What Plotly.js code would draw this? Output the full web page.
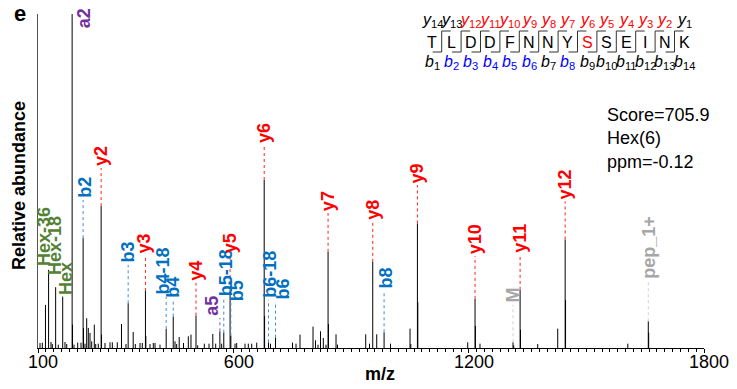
<!DOCTYPE html>
<html><head><meta charset="utf-8">
<script src="https://cdn.plot.ly/plotly-3.0.1.min.js"></script>
<style>html,body{margin:0;padding:0;background:#fff}#chart{width:737px;height:389px}</style>
</head><body><div id="chart"></div>
<script>
// ---------- DATA ----------
// unlabelled fragment peaks (m/z, relative abundance %)
const bgMz = [105.1,111.0,119.1,133.2,136.5,151.8,168.9,173.3,188.15,191.9,201.3,209.8,216.14,220.0,224.3,228.4,232.7,237.1,243.7,247.3,253.9,262.16,271.0,283.8,289.7,302.4,313.1,324.6,343.0,348.4,360.4,366.2,375.24,385.9,394.3,398.7,411.4,449.7,454.0,460.4,471.4,483.7,490.5,507.6,524.5,536.5,546.2,553.6,568.9,602.9,607.2,628.4,636.8,645.5,658.3,678.35,693.5,749.6,758.6,768.8,802.0,808.3,814.7,821.1,828.3,835.1,841.41,860.7,864.5,936.5,946.2,964.6,999.8,1049.6,1051.6,1069.5,1196.9,1216.57,1228.2,1314.3,1331.59,1375.5,1426.6,1446.62,1605.5,1658.8];
const bgInt = [1.5,1.6,12.9,1.8,1.2,1.0,1.8,1.2,7.0,1.0,1.6,1.6,6.0,1.3,8.9,6.0,4.5,2.0,7.0,1.2,1.3,4.0,1.5,1.7,1.7,1.7,7.2,1.2,4.8,1.2,1.5,1.5,3.6,1.2,1.5,1.5,1.0,2.0,1.2,3.3,1.5,3.5,4.0,0.8,1.3,1.3,4.2,1.3,1.3,1.3,1.5,1.3,1.3,1.3,1.6,9.6,1.3,1.6,1.3,4.0,6.4,2.3,1.0,5.0,3.0,1.0,7.2,4.1,1.0,4.1,1.3,4.1,1.3,5.8,1.2,13.7,1.7,6.6,1.3,0.8,5.5,1.2,5.8,14.4,1.3,4.6];

// annotated ions
const ionName = ['Hex-36','Hex-18','Hex','a2','b2','y2','b3','y3','b4-18','b4','y4','a5','b5-18','y5','b5','y6','b6-18','b6','y7','y8','b8','y9','y10','M','y11','y12','pep_1+'];
const ionType = ['hex','hex','hex','a','b','y','b','y','b','b','y','a','b','y','b','y','b','b','y','y','b','y','y','p','y','y','p'];
const ionMz   = [127.04,145.05,163.06,187.14,215.14,261.16,330.17,374.24,427.18,445.19,503.28,564.27,574.25,590.32,592.26,677.35,688.29,706.30,840.41,954.45,983.41,1068.50,1215.57,1312.5,1330.59,1445.62,1657.8];
const ionInt  = [23.4,18.2,15.4,100,32.9,42.5,13.4,17.1,5.7,9.4,9.7,5.0,4.6,17.4,3.7,50.3,1.7,3.1,28.8,25.8,4.7,37.3,14.7,1.7,17.4,32.5,8.0];
// height (in % abundance) where each label starts
const labelLevel = [24,21.3,15.3,95.2,44.3,53.9,24.9,27.8,15.3,14.4,19.5,9.0,15.0,27.8,13.5,60.8,14.4,13.8,40.4,37.7,17.1,48.8,27.5,12.9,27.8,43.9,20.1];
// horizontal label nudges (px)
const labelDx = [-4,0,4,12,1,0,0,-1,-3,0,0,-8,3,0,7,0,2,7.5,0,0,2,0,0,0,0,0,1];

// x axis ticks
const xTickVals = [100,600,1200,1800];
const xTickText = ['100','600','1200','1800'];

// peptide & coverage
const peptide = ['T','L','D','D','F','N','N','Y','S','S','E','I','N','K'];
const glycoSite = 9;                         // 1-based
const yObserved = [2,3,4,5,6,7,8,9,10,11,12];
const bObserved = [2,3,4,5,6,8];
const infoLines = ['Score=705.9','Hex(6)','ppm=-0.12'];

// ---------- STYLE ----------
const FONT = 'Arial, "Liberation Sans", sans-serif';
const labelColor = {y:'#ff0000', b:'#0070c0', a:'#7030a0', hex:'#548235', p:'#a6a6a6'};
const dotColor   = {y:'#ff2020', b:'#3a8fd8', a:'#8a52c0', hex:'#548235', p:'#cfcfcf'};

// ---------- TRACES ----------
const allMz = bgMz.concat(ionMz), allInt = bgInt.concat(ionInt);
const sx = [], sy = [];
allMz.forEach((m,i)=>{ sx.push(m,m,null); sy.push(0,allInt[i],null); });
const traces = [{x:sx, y:sy, type:'scatter', mode:'lines', line:{color:'#000', width:1}, hoverinfo:'skip', showlegend:false}];

['y','b','a','p'].forEach(t=>{
  const dx=[], dy=[];
  ionName.forEach((n,i)=>{
    if(ionType[i]!==t || n==='a2') return;
    if(labelLevel[i] > ionInt[i]) { dx.push(ionMz[i],ionMz[i],null); dy.push(ionInt[i],labelLevel[i],null); }
  });
  traces.push({x:dx, y:dy, type:'scatter', mode:'lines', line:{color:dotColor[t], width:1, dash:'dot'}, hoverinfo:'skip', showlegend:false});
});

// ---------- ANNOTATIONS ----------
const ann = [];
ionName.forEach((n,i)=>{
  ann.push({x:ionMz[i], y:labelLevel[i], xref:'x', yref:'y', text:'<b>'+n+'</b>', showarrow:false,
    textangle:-90, xanchor:'center', yanchor:'bottom', xshift:labelDx[i], yshift:1,
    font:{family:FONT, size:18, color:labelColor[ionType[i]]}, borderpad:0});
});

// plot-area pixel helpers for the peptide diagram (plot spans x 38..704, y 14..348)
const L = 38, W = 666, H = 334;
const px = v => (v - L) / W;
const py = v => (348 - v) / H;

const x0 = 432, step = 19.4;
const shapes = [];
peptide.forEach((aa,i)=>{
  const cx = x0 + i*step;
  ann.push({x:px(cx), y:py(42.5), xref:'paper', yref:'paper', text:aa, showarrow:false, xanchor:'center', yanchor:'middle',
    font:{family:FONT, size:16, color:(i+1===glycoSite)?'#ff0000':'#000'}});
  const yi = peptide.length - i;
  ann.push({x:px(cx), y:py(20), xref:'paper', yref:'paper', text:'<i>y</i><sub>'+yi+'</sub>', showarrow:false, xanchor:'center', yanchor:'middle',
    font:{family:FONT, size:16, color: yObserved.includes(yi)?'#ff0000':'#000'}});
  const bi = i+1;
  ann.push({x:px(cx), y:py(62), xref:'paper', yref:'paper', text:'<i>b</i><sub>'+bi+'</sub>', showarrow:false, xanchor:'center', yanchor:'middle',
    font:{family:FONT, size:16, color: bObserved.includes(bi)?'#0000ff':'#000'}});
  if(i < peptide.length-1){
    const gx = cx + step/2;
    const ln = {color:'#333', width:1};
    shapes.push({type:'line', xref:'paper', yref:'paper', x0:px(gx), x1:px(gx), y0:py(31), y1:py(52), line:ln});
    shapes.push({type:'line', xref:'paper', yref:'paper', x0:px(gx), x1:px(gx+9), y0:py(31), y1:py(31), line:ln});
    shapes.push({type:'line', xref:'paper', yref:'paper', x0:px(gx-9), x1:px(gx), y0:py(52), y1:py(52), line:ln});
  }
});

ann.push({x:px(605), y:py(103), xref:'paper', yref:'paper', text:infoLines.join('<br>'), showarrow:false,
  xanchor:'left', yanchor:'top', align:'left', font:{family:FONT, size:18, color:'#000'}});
ann.push({x:px(20), y:py(13), xref:'paper', yref:'paper', text:'<b>e</b>', showarrow:false,
  xanchor:'center', yanchor:'middle', font:{family:FONT, size:22, color:'#000'}});
ann.push({x:px(380), y:py(374), xref:'paper', yref:'paper', text:'<b>m/z</b>', showarrow:false,
  xanchor:'center', yanchor:'middle', font:{family:FONT, size:18, color:'#000'}});
ann.push({x:px(19), y:py(186), xref:'paper', yref:'paper', text:'<b>Relative abundance</b>', showarrow:false, textangle:-90,
  xanchor:'center', yanchor:'middle', font:{family:FONT, size:18, color:'#000'}});

const layout = {
  width:737, height:389,
  margin:{l:38, r:33, t:14, b:41, pad:0},
  paper_bgcolor:'#fff', plot_bgcolor:'#fff',
  showlegend:false,
  xaxis:{range:[100,1800], tickmode:'array', tickvals:xTickVals, ticktext:xTickText,
    ticks:'outside', ticklen:4, tickwidth:1, tickcolor:'#000', showline:true, linecolor:'#000', linewidth:1,
    showgrid:false, zeroline:false, tickfont:{family:FONT, size:18, color:'#000'}, ticklabelshift:5, ticklabelstandoff:-7,
    minor:{tickmode:'linear', tick0:100, dtick:20, ticks:'outside', ticklen:3, tickcolor:'#000', showgrid:false}},
  yaxis:{range:[0,100], showline:true, linecolor:'#555', linewidth:1, ticks:'', showticklabels:false,
    showgrid:false, zeroline:false},
  annotations:ann, shapes:shapes
};
Plotly.newPlot('chart', traces, layout, {displayModeBar:false, staticPlot:true});
</script></body></html>
